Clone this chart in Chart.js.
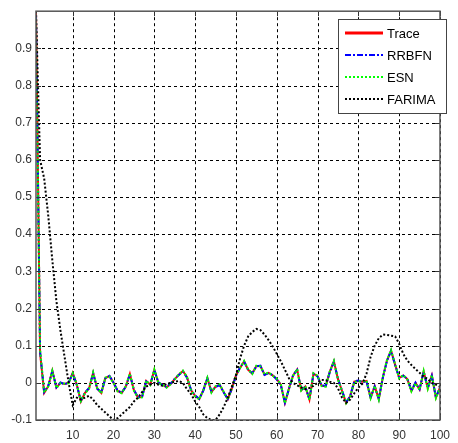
<!DOCTYPE html>
<html><head><meta charset="utf-8">
<script src="https://cdn.jsdelivr.net/npm/chart.js@4/dist/chart.umd.min.js"></script>
<style>html,body{margin:0;padding:0;background:#fff;}#wrap{width:458px;height:443px;}</style>
</head><body><div id="wrap"><canvas id="c" width="458" height="443"></canvas></div>
<script>
const xTicks = [10,20,30,40,50,60,70,80,90,100];
const yTicks = [-0.1,0,0.1,0.2,0.3,0.4,0.5,0.6,0.7,0.8,0.9];
const seriesNames = ['Trace','RRBFN','ESN','FARIMA'];
const trace = [1.0,0.08,-0.027,-0.009,0.033,-0.013,0.0,-0.003,0.0,0.027,
 -0.005,-0.05,-0.027,-0.015,0.027,-0.015,-0.027,0.013,0.018,0.0,
 -0.022,-0.027,-0.01,0.024,-0.02,-0.04,-0.038,0.005,-0.005,0.035,
 0.0,-0.005,-0.012,-0.003,0.01,0.022,0.032,0.015,-0.02,-0.035,
 -0.044,-0.02,0.013,-0.025,-0.01,-0.005,-0.025,-0.044,-0.015,0.02,
 0.04,0.058,0.035,0.025,0.045,0.045,0.022,0.027,0.02,0.01,
 -0.005,-0.054,-0.015,0.02,0.036,-0.02,-0.01,-0.045,0.025,0.018,
 -0.008,-0.009,0.03,0.058,0.01,-0.022,-0.054,-0.036,0.003,0.005,
 0.003,0.005,-0.04,-0.009,-0.044,0.015,0.06,0.087,0.049,0.013,
 0.02,0.01,-0.022,0.0,-0.018,0.031,-0.015,0.02,-0.04,-0.013];
const rrbfn = [0.99,0.085,-0.025,-0.008,0.031,-0.012,0.001,-0.004,0.001,0.025,
 -0.006,-0.048,-0.026,-0.014,0.026,-0.016,-0.026,0.012,0.019,0.001,
 -0.021,-0.026,-0.011,0.023,-0.019,-0.039,-0.037,0.004,-0.004,0.034,
 0.001,-0.006,-0.011,-0.002,0.011,0.021,0.031,0.014,-0.019,-0.034,
 -0.043,-0.021,0.012,-0.024,-0.011,-0.006,-0.026,-0.043,-0.016,0.019,
 0.041,0.057,0.034,0.026,0.044,0.046,0.021,0.026,0.021,0.009,
 -0.006,-0.053,-0.016,0.021,0.035,-0.019,-0.011,-0.044,0.024,0.017,
 -0.007,-0.008,0.029,0.057,0.011,-0.021,-0.053,-0.035,0.004,0.006,
 0.002,0.004,-0.039,-0.01,-0.043,0.014,0.059,0.086,0.048,0.014,
 0.019,0.011,-0.021,0.001,-0.017,0.03,-0.014,0.019,-0.039,-0.012];
const esn = [0.98,0.09,-0.026,-0.01,0.032,-0.014,-0.001,-0.002,-0.001,0.026,
 -0.004,-0.049,-0.028,-0.016,0.028,-0.014,-0.028,0.014,0.017,-0.001,
 -0.023,-0.028,-0.009,0.025,-0.021,-0.041,-0.039,0.006,-0.006,0.036,
 -0.001,-0.004,-0.013,-0.004,0.009,0.023,0.033,0.016,-0.021,-0.036,
 -0.045,-0.019,0.014,-0.026,-0.009,-0.004,-0.024,-0.045,-0.014,0.021,
 0.039,0.059,0.036,0.024,0.046,0.044,0.023,0.028,0.019,0.011,
 -0.004,-0.055,-0.014,0.019,0.037,-0.021,-0.009,-0.046,0.026,0.019,
 -0.009,-0.01,0.031,0.059,0.009,-0.023,-0.055,-0.037,0.002,0.004,
 0.004,0.006,-0.041,-0.008,-0.045,0.016,0.061,0.088,0.05,0.012,
 0.021,0.009,-0.023,-0.001,-0.019,0.032,-0.016,0.021,-0.041,-0.014];
const farima = [1.0,0.6,0.55,0.45,0.33,0.22,0.14,0.07,0.0,-0.06,
 -0.04,-0.045,-0.04,-0.035,-0.045,-0.06,-0.07,-0.08,-0.09,-0.1,
 -0.095,-0.085,-0.075,-0.065,-0.05,-0.04,-0.025,-0.01,-0.005,0.0,
 -0.005,-0.008,-0.003,0.0,0.003,0.005,0.0,-0.017,-0.03,-0.05,
 -0.065,-0.085,-0.095,-0.1,-0.1,-0.085,-0.065,-0.04,-0.01,0.02,
 0.065,0.1,0.125,0.137,0.145,0.142,0.13,0.115,0.098,0.078,
 0.058,0.035,0.012,0.0,-0.007,-0.012,-0.017,-0.014,-0.008,0.0,
 0.008,0.007,0.003,0.0,-0.015,-0.04,-0.054,-0.045,-0.028,-0.013,
 -0.002,0.025,0.07,0.1,0.12,0.13,0.129,0.127,0.125,0.105,
 0.078,0.06,0.048,0.037,0.027,0.017,0.01,0.0,-0.005,-0.01];

const toXY = arr => arr.map((v,i)=>({x:i+1,y:v}));

const gridPlugin = {
  id:'dashgrid',
  beforeDatasetsDraw(chart){
    const {ctx, chartArea:a, scales} = chart;
    ctx.save();
    ctx.strokeStyle='#000'; ctx.lineWidth=1; ctx.setLineDash([3,3]);
    xTicks.forEach(t=>{const px=Math.round(scales.x.getPixelForValue(t))+0.5;
      ctx.beginPath();ctx.moveTo(px,a.top);ctx.lineTo(px,a.bottom);ctx.stroke();});
    yTicks.forEach(t=>{const py=Math.round(scales.y.getPixelForValue(t))+0.5;
      ctx.beginPath();ctx.moveTo(a.left,py);ctx.lineTo(a.right,py);ctx.stroke();});
    ctx.restore();
  }
};

const frame = {
  id:'frame',
  afterDatasetsDraw(chart){
    const {ctx, chartArea:a, scales} = chart;
    ctx.save();
    ctx.strokeStyle='#333'; ctx.lineWidth=1; ctx.setLineDash([]);
    xTicks.forEach(t=>{const px=Math.round(scales.x.getPixelForValue(t))+0.5;
      ctx.beginPath();ctx.moveTo(px,a.top);ctx.lineTo(px,a.top+5);ctx.stroke();
      ctx.beginPath();ctx.moveTo(px,a.bottom);ctx.lineTo(px,a.bottom-5);ctx.stroke();});
    yTicks.forEach(t=>{const py=Math.round(scales.y.getPixelForValue(t))+0.5;
      ctx.beginPath();ctx.moveTo(a.right,py);ctx.lineTo(a.right-5,py);ctx.stroke();
      ctx.beginPath();ctx.moveTo(a.left,py);ctx.lineTo(a.left+5,py);ctx.stroke();});
    ctx.strokeStyle='#555'; ctx.lineWidth=1.5;
    ctx.strokeRect(a.left,a.top,a.right-a.left,a.bottom-a.top);
    const lx=338, ly=19, lw=108, lh=94;
    ctx.fillStyle='#fff'; ctx.fillRect(lx,ly,lw,lh);
    ctx.strokeStyle='#444'; ctx.lineWidth=1; ctx.strokeRect(lx+0.5,ly+0.5,lw,lh);
    ctx.font='13px "Liberation Sans Narrow","Liberation Sans",Arial,sans-serif';
    ctx.textBaseline='middle'; ctx.fillStyle='#000';
    chart.data.datasets.forEach((d,i)=>{
      const y = ly+14+i*22;
      ctx.strokeStyle=d.borderColor; ctx.lineWidth=(i===0?3:2);
      ctx.setLineDash(d.borderDash||[]);
      ctx.beginPath();ctx.moveTo(345,y);ctx.lineTo(383,y);ctx.stroke();
      ctx.setLineDash([]);
      ctx.fillText(d.label,387,y+1);
    });
    ctx.restore();
  }
};

new Chart(document.getElementById('c'),{
  type:'line',
  data:{datasets:[
    {label:seriesNames[0],data:toXY(trace),borderColor:'#ff0000',borderWidth:2,pointRadius:0,order:4,tension:0},
    {label:seriesNames[1],data:toXY(rrbfn),borderColor:'#0000ff',borderWidth:2,borderDash:[6,2,2,2],pointRadius:0,order:3,tension:0},
    {label:seriesNames[2],data:toXY(esn),borderColor:'#00ff00',borderWidth:2,borderDash:[2,2],pointRadius:0,order:2,tension:0},
    {label:seriesNames[3],data:toXY(farima),borderColor:'#000000',borderWidth:2,borderDash:[2,2],pointRadius:0,order:1,tension:0}
  ]},
  options:{
    responsive:false,animation:false,
    layout:{padding:{top:10,right:9,left:0,bottom:0}},
    plugins:{legend:{display:false},tooltip:{enabled:false}},
    scales:{
      x:{type:'linear',min:1,max:100,
        afterBuildTicks:s=>{s.ticks=xTicks.map(v=>({value:v}));},
        afterFit:s=>{s.height=23;},
        grid:{display:false,drawTicks:false},
        border:{display:false},
        ticks:{color:'#333',font:{family:'"Liberation Sans",Arial,sans-serif',size:12},padding:8,maxRotation:0,autoSkip:false}},
      y:{type:'linear',min:-0.1,max:1.0,
        afterBuildTicks:s=>{s.ticks=yTicks.map(v=>({value:v}));},
        afterFit:s=>{s.width=36;},
        grid:{display:false,drawTicks:false},
        border:{display:false},
        ticks:{color:'#333',font:{family:'"Liberation Sans",Arial,sans-serif',size:12},padding:4,
          callback:v=>(Math.abs(v)<1e-9?'0':(Math.round(v*10)/10).toString())}}
    }
  },
  plugins:[gridPlugin, frame]
});
</script></body></html>
